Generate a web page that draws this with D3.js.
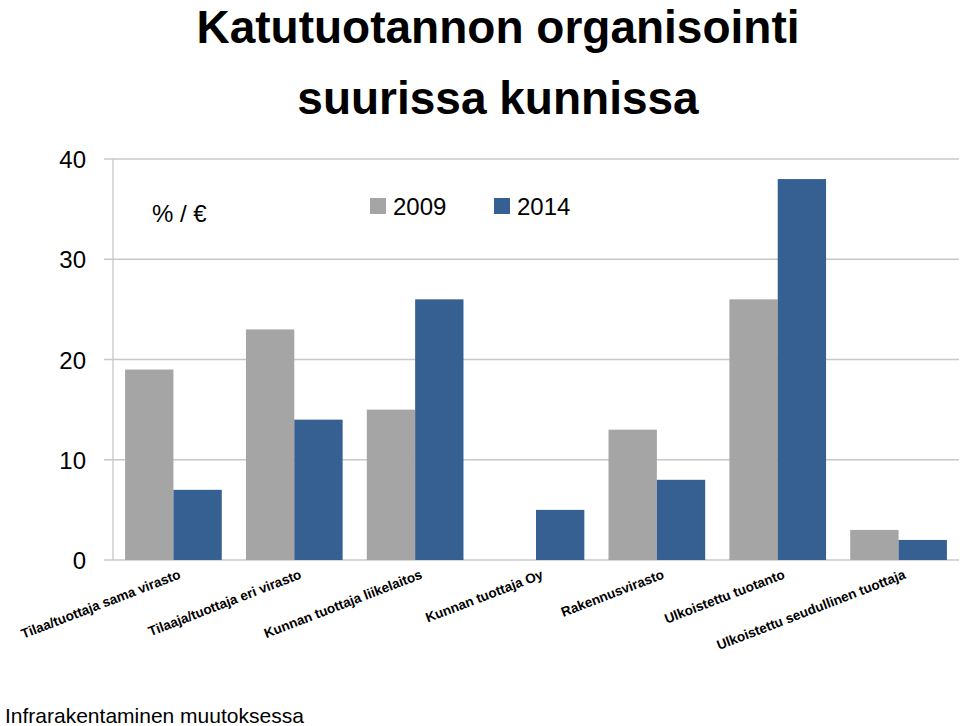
<!DOCTYPE html>
<html><head><meta charset="utf-8">
<script src="https://cdn.jsdelivr.net/npm/d3@7"></script>
<style>body{margin:0;background:#fff}</style></head>
<body><svg id="c" width="960" height="726"></svg>
<script>
const categories=["Tilaa/tuottaja sama virasto","Tilaaja/tuottaja eri virasto","Kunnan tuottaja liikelaitos","Kunnan tuottaja Oy","Rakennusvirasto","Ulkoistettu tuotanto","Ulkoistettu seudullinen tuottaja"];
const series=["2009","2014"];
const v2009=[19,23,15,0,13,26,3];
const v2014=[7,14,26,5,8,38,2];
const yTicks=[0,10,20,30,40];
const colors=["#a5a5a5","#376092"];
const svg=d3.select("#c");
const font="'Liberation Sans',Arial,sans-serif";
const x=d3.scaleBand().domain(categories).range([113,959]).paddingInner(0.2).paddingOuter(0.1);
const xs=d3.scaleBand().domain(series).range([0,x.bandwidth()]);
const y=d3.scaleLinear().domain([0,40]).range([560,159]);
// gridlines
svg.append("g").selectAll("line").data(yTicks).join("line")
 .attr("x1",104).attr("x2",959).attr("y1",d=>y(d)).attr("y2",d=>y(d))
 .attr("stroke","#c8c8c8").attr("stroke-width",1.3);
svg.append("line").attr("x1",113).attr("x2",113).attr("y1",y(40)).attr("y2",y(0)).attr("stroke","#c8c8c8").attr("stroke-width",1.3);
svg.append("g").selectAll("text").data(yTicks).join("text")
 .attr("x",86).attr("y",d=>y(d)+9).attr("text-anchor","end").attr("font-family",font).attr("font-size",24).text(d=>d);
const data=[v2009,v2014];
series.forEach((s,i)=>{
 svg.append("g").selectAll("rect").data(categories).join("rect")
  .attr("x",c=>x(c)+xs(s)).attr("width",xs.bandwidth())
  .attr("y",(c,j)=>y(data[i][j])).attr("height",(c,j)=>y(0)-y(data[i][j]))
  .attr("fill",colors[i]);
});
svg.append("g").selectAll("text").data(categories).join("text")
 .attr("transform",c=>`translate(${x(c)+x.bandwidth()/2+8},${578}) rotate(-21)`)
 .attr("text-anchor","end").attr("font-family",font).attr("font-size",13.5).attr("font-weight","bold").text(c=>c);
// title
svg.append("text").attr("x",498).attr("y",43).attr("text-anchor","middle").attr("font-family",font).attr("font-weight","bold").attr("font-size",46).text("Katutuotannon organisointi");
svg.append("text").attr("x",498).attr("y",114).attr("text-anchor","middle").attr("font-family",font).attr("font-weight","bold").attr("font-size",46).text("suurissa kunnissa");
svg.append("text").attr("x",152).attr("y",222).attr("font-family",font).attr("font-size",24).text("% / €");
const lx=[370,494];
series.forEach((s,i)=>{
 svg.append("rect").attr("x",lx[i]).attr("y",198).attr("width",16).attr("height",16).attr("fill",colors[i]);
 svg.append("text").attr("x",lx[i]+23).attr("y",215).attr("font-family",font).attr("font-size",24).text(s);
});
svg.append("text").attr("x",5).attr("y",723).attr("font-family",font).attr("font-size",21).text("Infrarakentaminen muutoksessa");
</script></body></html>
